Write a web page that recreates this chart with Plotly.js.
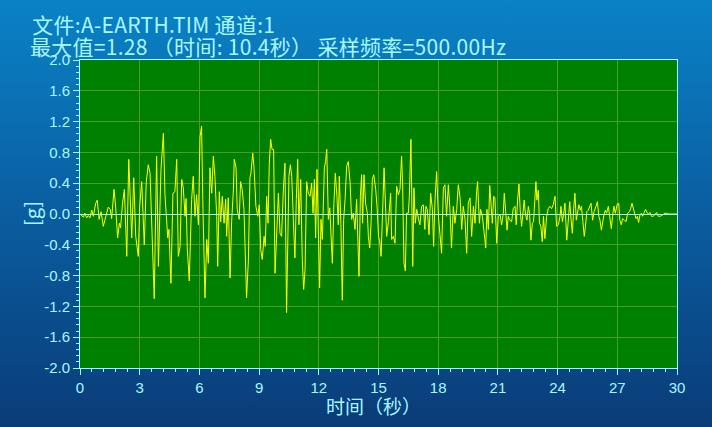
<!DOCTYPE html>
<html>
<head>
<meta charset="utf-8">
<script src="https://cdn.plot.ly/plotly-3.0.1.min.js"></script>
<style>
html,body{margin:0;padding:0;}
body{width:712px;height:427px;overflow:hidden;background:linear-gradient(to bottom,#0a82c6 0%,#0a5da0 50%,#0a3c78 100%);}
#chart{width:712px;height:427px;}
.annotation[data-index="0"] text, .annotation[data-index="1"] text{letter-spacing:0.3px;}
</style>
</head>
<body>
<div id="chart"></div>
<script>
// ---- data ----
const titleLine1 = "文件:A-EARTH.TIM 通道:1";
const titleLine2 = "最大值=1.28 （时间: 10.4秒） 采样频率=500.00Hz";
const xTitle = "时间（秒）";
const yTitle = "[g]";
const yTickVals = [-2.0,-1.6,-1.2,-0.8,-0.4,0.0,0.4,0.8,1.2,1.6,2.0];
const yTickText = ["-2.0","-1.6","-1.2","-0.8","-0.4","0.0","0.4","0.8","1.2","1.6","2.0"];
const xTickVals = [0,3,6,9,12,15,18,21,24,27,30];

const timeSec = [
0,0.17,0.25,0.33,0.42,0.5,0.59,0.67,0.79,0.87,0.96,1.06,1.17,1.29,1.42,1.52,1.59,1.71,1.79,1.89,1.98,2.04,2.13,2.23,2.35,2.45,2.53,2.6,2.7,2.8,2.93,3.0,3.1,3.23,3.33,3.43,3.52,3.63,3.73,3.85,3.94,4.07,4.19,4.27,4.41,4.47,4.57,4.67,4.77,4.86,4.94,
5.03,5.11,5.19,5.28,5.33,5.39,5.49,5.61,5.69,5.78,5.86,5.95,6.03,6.11,6.17,6.23,6.28,6.37,6.45,6.53,6.62,6.7,6.78,6.87,6.92,7.0,7.07,7.15,7.24,7.32,7.37,7.45,7.54,7.62,7.71,7.75,7.84,7.9,8.0,8.07,8.15,8.24,8.31,8.37,8.46,8.54,8.59,8.68,8.74,8.84,8.93,9.01,9.08,9.16,9.25,9.31,9.38,9.45,9.51,9.58,9.65,9.73,9.8,9.88,9.97,10.05,10.13,10.22,10.3,10.38,
10.44,10.5,10.57,10.64,10.72,10.8,10.87,10.94,11.0,11.09,11.17,11.24,11.31,11.39,11.47,11.56,11.64,11.71,11.78,11.84,11.91,11.98,12.04,12.11,12.18,12.28,12.34,12.4,12.48,12.55,12.61,12.68,12.76,12.83,12.91,12.98,13.03,13.11,13.18,13.25,13.32,13.4,13.48,13.57,13.65,13.73,13.82,13.9,14.02,14.09,14.15,14.2,14.27,14.35,14.44,14.49,14.56,14.63,14.69,14.76,14.86,14.93,15.0,15.06,15.13,15.2,15.28,15.33,15.41,15.5,
15.61,15.66,15.75,15.83,15.91,16.0,16.08,16.16,16.21,16.28,16.35,16.41,16.5,16.55,16.63,16.72,16.78,16.85,16.92,17.0,17.08,17.17,17.25,17.33,17.38,17.45,17.54,17.62,17.71,17.77,17.84,17.92,18.01,18.09,18.17,18.26,18.34,18.42,18.51,18.59,18.67,18.76,18.84,18.93,19.01,19.1,19.18,19.26,19.35,19.43,19.51,19.6,19.68,19.77,19.85,19.93,19.98,20.07,20.13,20.22,20.3,20.39,20.45,20.52,20.59,20.65,20.72,20.79,20.85,
20.94,21.02,21.11,21.19,21.27,21.32,21.39,21.46,21.52,21.6,21.69,21.77,21.86,21.92,21.99,22.06,22.12,22.19,22.26,22.32,22.39,22.46,22.53,22.59,22.66,22.73,22.79,22.86,22.91,22.96,23.03,23.09,23.16,23.23,23.29,23.36,23.45,23.53,23.61,23.7,23.78,23.87,23.95,24.04,24.12,24.17,24.24,24.3,24.37,24.46,24.54,24.61,24.68,24.74,24.81,24.87,24.94,25.0,25.07,25.14,25.2,25.27,25.34,25.4,25.47,25.54,25.62,
25.68,25.76,25.83,25.93,26.0,26.07,26.13,26.2,26.26,26.33,26.4,26.46,26.55,26.63,26.7,26.76,26.83,26.9,27.0,27.07,27.13,27.2,27.27,27.35,27.44,27.52,27.61,27.67,27.74,27.81,27.87,27.94,28.01,28.07,28.14,28.21,28.27,28.34,28.42,28.51,28.57,28.64,28.72,28.81,28.89,28.98,29.06,29.14,29.23,29.31,29.4,29.48,29.56,29.65,29.73,29.81,29.93,30
];

const accelG = [
0,-0.04,0.01,-0.05,-0.02,-0.05,0.05,-0.03,0.14,0.18,-0.07,0.03,-0.16,-0.05,0.09,0.06,-0.06,0.32,0.1,-0.31,-0.12,-0.18,0.12,0.32,-0.55,0.71,0.1,-0.31,0.47,-0.29,-0.55,0.1,0.42,-0.4,0.42,0.64,0.53,-0.51,-1.1,0.75,-0.68,0.58,1.05,0.25,-0.31,-0.2,-0.9,0.27,0.29,0.71,-0.55,
-0.42,0.45,0.34,-0.03,0.2,-0.44,-0.87,0.19,0.49,-0.03,0.25,-0.14,1.0,1.14,0.19,-0.57,-1.09,-0.33,-0.64,0.6,0.27,0.75,0.49,-0.03,-0.68,0.29,-0.1,0.23,-0.12,0.19,-0.29,0.21,-0.83,-0.1,0.32,0.71,0.6,0.06,-0.07,0.42,0.32,0.06,-0.72,-1.09,-0.61,0.47,0.53,0.79,0.62,0.1,-0.03,0.12,-0.46,-0.59,-0.29,-0.42,0.23,-0.12,0.64,0.97,0.84,0.84,-0.77,-0.16,0.27,-0.25,-0.29,0.32,0.66,-1.28,
-0.25,0.49,0.64,0.49,-0.07,-0.57,0.19,0.71,-0.14,0.45,-0.59,-0.98,-0.72,0.42,0.27,0.23,0.4,0.01,0.45,-0.31,0.58,-0.38,-0.96,-0.07,-0.33,0.6,0.68,0.84,-0.07,0.08,-0.2,-0.64,0.14,0.53,0.23,-0.14,0.49,-0.12,-1.12,-0.07,0.19,0.62,0.68,0.42,-0.07,0.01,-0.2,0.19,-0.81,0.23,0.51,-0.12,0.51,0.14,0.01,-0.29,-0.44,-0.1,0.45,0.51,0.32,0.08,-0.29,-0.35,-0.55,0.06,0.6,0.27,-0.29,-0.1,
0.27,-0.33,-0.29,-0.38,0.36,0.25,0.32,0.75,0.4,-0.64,-0.74,0.01,0.01,0.23,0.97,-0.68,0.34,-0.12,0.06,-0.05,-0.14,0.1,0.12,-0.2,0.1,0.06,-0.27,0.27,0.06,-0.42,0.19,0.55,-0.03,-0.27,-0.51,0.34,0.38,-0.03,0.38,0.06,-0.44,0.1,-0.12,0.06,0.38,0.21,-0.2,0.1,-0.07,-0.51,0.14,0.21,-0.29,0.1,-0.12,0.29,0.42,-0.12,0.06,-0.03,-0.2,-0.44,0.06,-0.2,0.37,0.08,-0.12,0.23,0.21,
-0.38,-0.03,-0.01,-0.14,0.01,0.27,0.03,-0.21,-0.03,-0.08,-0.1,0.07,0.1,-0.14,0.18,0.39,0.05,-0.16,0.01,0.18,-0.01,-0.08,0.1,0.01,-0.34,-0.12,-0.1,0.29,0.42,0.18,0.31,-0.12,-0.16,-0.36,-0.03,-0.32,-0.03,0.07,0.1,0.07,0.12,0.23,-0.16,-0.14,-0.03,0.1,-0.1,-0.01,0.14,-0.34,0.01,0.16,-0.08,-0.25,0.07,0.27,-0.08,0.01,0.12,0.05,0.1,-0.1,-0.29,-0.16,0.03,0.05,0.1,
0.14,-0.08,0.03,0.1,0.16,-0.03,-0.08,-0.21,-0.1,-0.01,0.05,0.01,0.1,-0.08,-0.19,-0.03,0.1,0.01,0.13,0.14,-0.08,-0.14,-0.06,-0.08,-0.1,0.01,0.03,0.07,0.14,0.07,-0.01,-0.06,-0.03,-0.11,-0.01,0.01,-0.03,0.01,0.06,0.01,0,0.02,-0.03,-0.03,0,0.02,-0.03,-0.03,-0.02,0,0.01,0.01,0,0,0,0,0,0
];

// ---- chart ----
const cyan = '#99ffff';
const txt = '#a8f8ff';
const tickFontFamily = 'Liberation Sans Narrow, Arial Narrow, Liberation Sans, sans-serif';
const cjk = 'Noto Sans CJK SC, sans-serif';

const trace = {
  x: timeSec, y: accelG, type: 'scatter', mode: 'lines',
  line: {color: '#ffff00', width: 1}, hoverinfo: 'skip'
};

const layout = {
  width: 712, height: 427,
  margin: {l: 80, r: 35, t: 60, b: 59, pad: 0},
  paper_bgcolor: 'rgba(0,0,0,0)',
  plot_bgcolor: '#008000',
  showlegend: false,
  xaxis: {
    range: [0, 30], tickmode: 'array', tickvals: xTickVals, ticks: 'outside', ticklen: 6, tickwidth: 1, tickcolor: cyan,
    showline: true, linecolor: cyan, linewidth: 1, mirror: true,
    showgrid: true, gridcolor: '#4c9c2c', gridwidth: 1, zeroline: false,
    minor: {dtick: 0.6, tick0: 0, ticks: 'outside', ticklen: 3, tickcolor: cyan, showgrid: false},
    tickfont: {family: tickFontFamily, size: 15, color: txt},
    fixedrange: true
  },
  yaxis: {
    range: [-2, 2], tickmode: 'array', tickvals: yTickVals, ticktext: yTickText,
    ticks: 'outside', ticklen: 6, tickwidth: 1, tickcolor: cyan,
    showline: true, linecolor: cyan, linewidth: 1, mirror: true,
    showgrid: true, gridcolor: '#4c9c2c', gridwidth: 1,
    zeroline: true, zerolinecolor: '#a0ffff', zerolinewidth: 1, zerolinelayer: 'above traces',
    minor: {dtick: 0.08, tick0: 0, ticks: 'outside', ticklen: 3, tickcolor: cyan, showgrid: false},
    tickfont: {family: tickFontFamily, size: 15, color: txt},
    fixedrange: true
  },
  annotations: [
    {text: titleLine1, xref: 'paper', yref: 'paper', x: -0.079, y: 1.1185, xanchor: 'left', yanchor: 'middle',
     showarrow: false, font: {family: cjk, size: 21, color: txt}},
    {text: titleLine2, xref: 'paper', yref: 'paper', x: -0.079, y: 1.0455, xanchor: 'left', yanchor: 'middle',
     showarrow: false, font: {family: cjk, size: 21, color: txt}},
    {text: xTitle, xref: 'paper', yref: 'paper', x: 0.491, y: -0.122, xanchor: 'center', yanchor: 'middle',
     showarrow: false, font: {family: cjk, size: 19, color: txt}},
    {text: yTitle, xref: 'paper', yref: 'paper', x: -0.082, y: 0.5, xanchor: 'center', yanchor: 'middle', textangle: -90,
     showarrow: false, font: {family: cjk, size: 20, color: txt}}
  ]
};

Plotly.newPlot('chart', [trace], layout, {displayModeBar: false, staticPlot: true});
</script>
</body>
</html>
